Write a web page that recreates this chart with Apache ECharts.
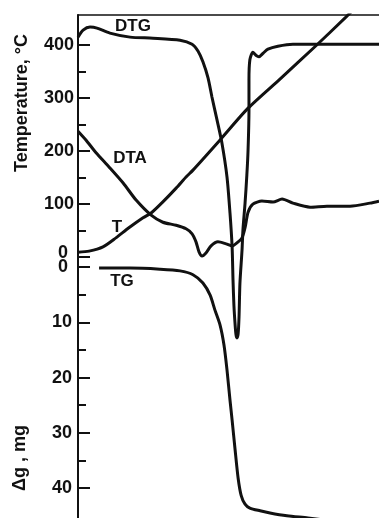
<!DOCTYPE html>
<html>
<head>
<meta charset="utf-8">
<script src="https://cdn.jsdelivr.net/npm/echarts@6/dist/echarts.min.js"></script>
<style>
  html, body { margin: 0; padding: 0; background: #fff; }
  #chart { width: 379px; height: 518px; }
</style>
</head>
<body>
<div id="chart"></div>
<script>
// time axis is arbitrary 0..100 (no labels on the original)
// T curve, degC
var tTime = [0, 3.7, 8.3, 12.6, 16.9, 21.6, 24.3, 28.2, 32.6, 35.9, 38.2, 47.2, 56.5, 67.1, 78.7, 89.0, 93.7];
var tTemp = [9, 11, 19, 36, 55, 74, 83, 104, 130, 151, 164, 221, 281, 336, 397, 453, 480];

// DTA curve, arbitrary units
var dtaTime = [0, 2.7, 6.0, 10.3, 15.0, 19.3, 24.3, 28.2, 32.6, 35.9, 37.9, 39.2, 40.2, 41.2, 42.5, 44.2, 46.5, 49.2, 51.2, 53.2, 54.5, 55.5, 56.5, 58.1, 61.1, 64.8, 67.8, 71.4, 77.1, 82.7, 90.4, 97.0, 100];
var dtaVal = [76.9, 75.1, 72.6, 69.8, 66.6, 63.2, 60.2, 58.8, 58.2, 57.5, 56.5, 54.9, 52.9, 52.1, 52.7, 54.1, 54.9, 54.5, 54.1, 54.9, 55.7, 57.7, 60.8, 62.4, 63.0, 62.8, 63.4, 62.6, 61.8, 62.0, 62.0, 62.6, 63.0];

// DTG curve, arbitrary units
var dtgTime = [0, 1.7, 4.0, 6.3, 10.6, 17.3, 24.9, 33.9, 37.9, 39.9, 41.5, 43.2, 44.5, 46.2, 47.8, 49.5, 50.5, 51.2, 51.5, 51.8, 52.2, 52.5, 52.8, 53.2, 53.5, 53.8, 54.5, 54.8, 55.5, 56.1, 56.5, 56.8, 56.8, 57.1, 58.1, 59.1, 60.1, 61.5, 63.1, 66.4, 71.4, 80.4, 90.4, 100];
var dtgVal = [95.6, 97.0, 97.6, 97.4, 96.4, 95.6, 95.4, 95.0, 94.2, 92.8, 90.7, 87.5, 83.7, 79.1, 74.6, 67.8, 60.6, 53.9, 47.3, 42.3, 38.4, 36.4, 35.8, 36.6, 40.0, 46.7, 53.3, 57.3, 62.6, 68.2, 73.2, 81.1, 87.1, 91.1, 92.6, 92.0, 91.7, 92.4, 93.2, 93.8, 94.2, 94.2, 94.2, 94.2];

// TG curve, mass loss in mg
var tgTime = [7.0, 17.3, 27.2, 33.9, 38.2, 41.5, 43.9, 45.5, 47.2, 48.5, 49.5, 50.5, 51.2, 52.2, 53.2, 54.2, 55.5, 57.1, 60.5, 63.8, 69.4, 76.4, 83.7];
var tgLoss = [0.2, 0.2, 0.4, 0.7, 1.4, 2.9, 5.1, 7.8, 10.5, 14.1, 18.6, 24.1, 27.7, 33.1, 38.2, 41.3, 42.9, 43.6, 44.1, 44.5, 45.0, 45.4, 45.9];

var tempTicks = [0, 100, 200, 300, 400];
var tempMinorTicks = [50, 150, 250, 350];
var massTicks = [0, 10, 20, 30, 40];
var massMinorTicks = [5, 15, 25, 35];
var curveNames = ['DTG', 'DTA', 'T', 'TG'];

function pairs(xs, ys) {
    var out = [];
    for (var i = 0; i < xs.length; i++) out.push([xs[i], ys[i]]);
    return out;
}

var ink = '#111';
var font = 'Liberation Sans';
var chart = echarts.init(document.getElementById('chart'));

var lineStyle = { color: ink, width: 3 };
function curve(name, x, y, data) {
    return {
        name: name, type: 'line', xAxisIndex: x, yAxisIndex: y,
        data: data, symbol: 'none', smooth: 0.25,
        lineStyle: lineStyle, silent: true
    };
}

var labelStyle = { color: ink, fontFamily: font, fontWeight: 'bold', fontSize: 18 };

var option = {
    animation: false,
    grid: [
        { left: 78, right: 0, top: 15, height: 252 },
        { left: 78, right: 0, top: 267, bottom: 0 },
        { left: 78, right: 0, top: 15, bottom: 0 }
    ],
    xAxis: [
        { gridIndex: 0, type: 'value', min: 0, max: 100, position: 'top',
          axisLine: { onZero: false, lineStyle: { color: ink, width: 1.5 } },
          axisTick: { show: false }, axisLabel: { show: false }, splitLine: { show: false } },
        { gridIndex: 1, type: 'value', min: 0, max: 100, position: 'bottom',
          axisLine: { onZero: false, lineStyle: { color: '#ccc', width: 1 } },
          axisTick: { show: false }, axisLabel: { show: false }, splitLine: { show: false } },
        { gridIndex: 2, type: 'value', min: 0, max: 100, show: false }
    ],
    yAxis: [
        { gridIndex: 0, type: 'value', min: -19, max: 457, position: 'left',
          axisLine: { show: true, onZero: false, lineStyle: { color: ink, width: 2 } },
          axisTick: { inside: true, length: 12, customValues: tempTicks, lineStyle: { color: ink, width: 2 } },
          axisLabel: Object.assign({ customValues: tempTicks, margin: 4,
                       formatter: function (v) { return v === 0 ? '{z|0}' : String(v); },
                       rich: { z: Object.assign({ padding: [0, 6, 8, 0] }, labelStyle) } }, labelStyle),
          splitLine: { show: false } },
        { gridIndex: 0, type: 'value', min: -19, max: 457, position: 'left',
          axisLine: { show: false, onZero: false },
          axisTick: { inside: true, length: 8, customValues: tempMinorTicks, lineStyle: { color: ink, width: 2 } },
          axisLabel: { show: false }, splitLine: { show: false } },
        { gridIndex: 1, type: 'value', min: 0, max: 45.4, inverse: true, position: 'left',
          axisLine: { show: true, onZero: false, lineStyle: { color: ink, width: 2 } },
          axisTick: { inside: true, length: 12, customValues: massTicks, lineStyle: { color: ink, width: 2 } },
          axisLabel: Object.assign({ customValues: massTicks, margin: 6,
                       formatter: function (v) { return v === 0 ? '{z|0}' : String(v); },
                       rich: { z: Object.assign({ padding: [0, 4, 0, 0] }, labelStyle) } }, labelStyle),
          splitLine: { show: false } },
        { gridIndex: 1, type: 'value', min: 0, max: 45.4, inverse: true, position: 'left',
          axisLine: { show: false, onZero: false },
          axisTick: { inside: true, length: 8, customValues: massMinorTicks, lineStyle: { color: ink, width: 2 } },
          axisLabel: { show: false }, splitLine: { show: false } },
        { gridIndex: 2, type: 'value', min: 0, max: 100, show: false }
    ],
    series: [
        curve('T', 0, 0, pairs(tTime, tTemp)),
        curve('TG', 1, 2, pairs(tgTime, tgLoss)),
        curve('DTA', 2, 4, pairs(dtaTime, dtaVal)),
        curve('DTG', 2, 4, pairs(dtgTime, dtgVal))
    ],
    graphic: [
        { type: 'text', x: 22, y: 103, rotation: Math.PI / 2,
          style: { text: 'Temperature, °C', fill: ink, font: 'bold 18px ' + font, align: 'center', verticalAlign: 'middle' } },
        { type: 'text', x: 20, y: 458, rotation: Math.PI / 2,
          style: { text: 'Δg , mg', fill: ink, font: 'bold 18px ' + font, align: 'center', verticalAlign: 'middle' } },
        { type: 'text', x: 133, y: 26, style: { text: curveNames[0], fill: ink, font: 'bold 17px ' + font, align: 'center', verticalAlign: 'middle' } },
        { type: 'text', x: 130, y: 158, style: { text: curveNames[1], fill: ink, font: 'bold 17px ' + font, align: 'center', verticalAlign: 'middle' } },
        { type: 'text', x: 117, y: 227, style: { text: curveNames[2], fill: ink, font: 'bold 17px ' + font, align: 'center', verticalAlign: 'middle' } },
        { type: 'text', x: 122, y: 281, style: { text: curveNames[3], fill: ink, font: 'bold 17px ' + font, align: 'center', verticalAlign: 'middle' } }
    ]
};
chart.setOption(option);
</script>
</body>
</html>
